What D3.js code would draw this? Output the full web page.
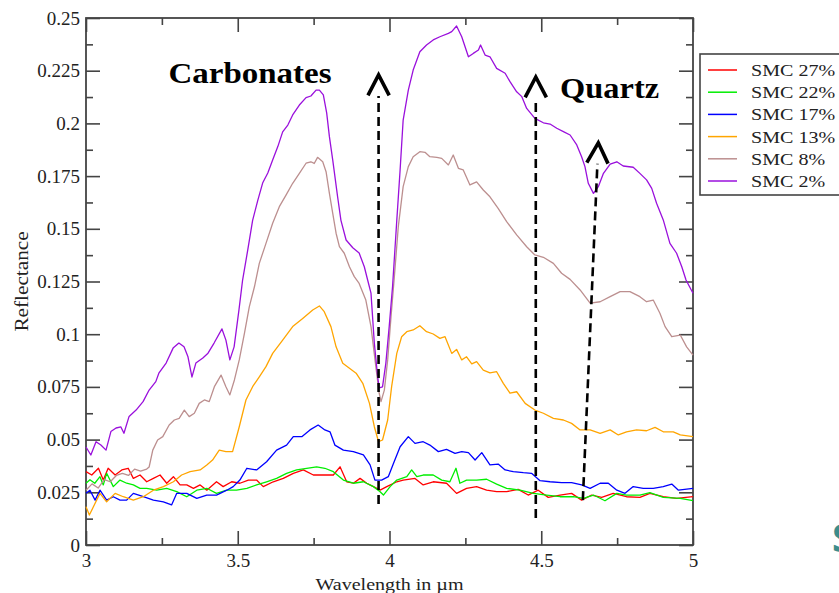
<!DOCTYPE html>
<html>
<head>
<meta charset="utf-8">
<script src="https://cdn.jsdelivr.net/npm/d3@7"></script>
<style>
  body { margin: 0; background: #fff; }
  svg { display: block; }
  text { font-family: "Liberation Serif", "Times New Roman", serif; }
</style>
</head>
<body>
<svg width="839" height="593"></svg>
<script>
// reflectance spectra, [wavelength in µm, reflectance]
var smc27 = [[3.0,0.0348],[3.019,0.0332],[3.041,0.0364],[3.057,0.0308],[3.073,0.0364],[3.096,0.0332],[3.118,0.0356],[3.139,0.0364],[3.156,0.0316],[3.178,0.0332],[3.2,0.03],[3.222,0.0316],[3.244,0.0332],[3.266,0.0293],[3.288,0.0324],[3.31,0.0285],[3.332,0.0285],[3.354,0.0269],[3.376,0.0285],[3.398,0.026],[3.43,0.03],[3.452,0.0277],[3.48,0.03],[3.507,0.0293],[3.535,0.0308],[3.562,0.0308],[3.584,0.0277],[3.617,0.03],[3.65,0.0316],[3.683,0.034],[3.716,0.0356],[3.749,0.0332],[3.782,0.0332],[3.815,0.0332],[3.837,0.0371],[3.859,0.03],[3.881,0.0293],[3.903,0.0316],[3.925,0.0293],[3.947,0.0277],[3.969,0.026],[3.991,0.0277],[4.024,0.03],[4.045,0.0308],[4.084,0.0316],[4.111,0.0285],[4.144,0.03],[4.188,0.0293],[4.221,0.0245],[4.254,0.0269],[4.287,0.0277],[4.32,0.026],[4.353,0.0253],[4.386,0.0253],[4.424,0.0264],[4.457,0.0237],[4.49,0.026],[4.523,0.0226],[4.562,0.0237],[4.6,0.0245],[4.633,0.0213],[4.666,0.0237],[4.699,0.0226],[4.737,0.0245],[4.781,0.0229],[4.825,0.0226],[4.858,0.0245],[4.902,0.0229],[4.946,0.0221],[5.0,0.0229]];

var smc22 = [[3.0,0.0293],[3.013,0.031],[3.029,0.0293],[3.046,0.0324],[3.057,0.0285],[3.068,0.034],[3.09,0.0277],[3.112,0.0308],[3.134,0.0293],[3.156,0.0285],[3.178,0.0269],[3.2,0.0269],[3.233,0.026],[3.266,0.0269],[3.299,0.0253],[3.332,0.0229],[3.365,0.026],[3.398,0.0269],[3.43,0.0245],[3.464,0.026],[3.496,0.026],[3.53,0.0269],[3.562,0.0285],[3.595,0.03],[3.628,0.0316],[3.661,0.034],[3.694,0.0356],[3.727,0.0364],[3.76,0.0371],[3.787,0.0364],[3.815,0.0348],[3.848,0.0308],[3.881,0.0293],[3.914,0.03],[3.947,0.0277],[3.969,0.0253],[3.98,0.0237],[4.002,0.0277],[4.024,0.0308],[4.057,0.0324],[4.073,0.0356],[4.09,0.0324],[4.111,0.0332],[4.144,0.0332],[4.172,0.0308],[4.199,0.03],[4.219,0.0364],[4.232,0.0293],[4.254,0.0308],[4.287,0.0308],[4.32,0.0312],[4.353,0.0289],[4.386,0.0269],[4.43,0.026],[4.474,0.0245],[4.518,0.0237],[4.562,0.0229],[4.606,0.0229],[4.639,0.0221],[4.672,0.0237],[4.71,0.021],[4.749,0.0245],[4.781,0.0237],[4.825,0.0237],[4.858,0.0248],[4.902,0.0226],[4.958,0.0221],[5.0,0.021]];

var smc17 = [[3.0,0.0245],[3.013,0.026],[3.03,0.0213],[3.046,0.026],[3.068,0.0213],[3.09,0.0229],[3.112,0.0213],[3.134,0.0213],[3.156,0.0245],[3.189,0.0229],[3.222,0.0213],[3.255,0.0205],[3.282,0.019],[3.299,0.0245],[3.332,0.0245],[3.365,0.0221],[3.398,0.0237],[3.43,0.0237],[3.464,0.026],[3.485,0.0277],[3.507,0.0308],[3.53,0.0364],[3.562,0.0356],[3.595,0.0395],[3.628,0.045],[3.661,0.0474],[3.683,0.0514],[3.711,0.0514],[3.738,0.0546],[3.765,0.0569],[3.787,0.0546],[3.804,0.0537],[3.82,0.0474],[3.848,0.045],[3.881,0.0443],[3.914,0.0427],[3.936,0.038],[3.952,0.0308],[3.974,0.0308],[3.996,0.0324],[4.013,0.0387],[4.035,0.0466],[4.062,0.0514],[4.084,0.0482],[4.111,0.049],[4.133,0.0474],[4.161,0.0443],[4.188,0.0454],[4.216,0.0435],[4.238,0.0443],[4.26,0.0438],[4.282,0.0403],[4.304,0.0438],[4.331,0.038],[4.358,0.0384],[4.381,0.0356],[4.408,0.0348],[4.441,0.0343],[4.468,0.034],[4.496,0.0305],[4.529,0.03],[4.567,0.0296],[4.6,0.0296],[4.633,0.0285],[4.661,0.0269],[4.694,0.0293],[4.721,0.0293],[4.749,0.026],[4.776,0.0245],[4.803,0.0277],[4.836,0.0269],[4.869,0.0269],[4.902,0.0277],[4.93,0.0289],[4.952,0.026],[5.0,0.0269]];

var smc13 = [[3.0,0.0182],[3.011,0.0142],[3.024,0.018],[3.046,0.0245],[3.068,0.0205],[3.096,0.0245],[3.123,0.0229],[3.156,0.0213],[3.189,0.0229],[3.222,0.026],[3.255,0.0277],[3.288,0.03],[3.315,0.0332],[3.343,0.0348],[3.376,0.0356],[3.398,0.038],[3.417,0.0403],[3.439,0.045],[3.461,0.0443],[3.483,0.0443],[3.505,0.0561],[3.527,0.0688],[3.549,0.0751],[3.571,0.0798],[3.593,0.0846],[3.615,0.0909],[3.648,0.0972],[3.681,0.1036],[3.714,0.1075],[3.747,0.1115],[3.769,0.1134],[3.785,0.1107],[3.807,0.1036],[3.824,0.094],[3.846,0.0862],[3.868,0.0838],[3.89,0.0815],[3.912,0.0767],[3.934,0.0672],[3.95,0.0561],[3.964,0.049],[3.977,0.0498],[3.994,0.0593],[4.007,0.0751],[4.024,0.0909],[4.04,0.0988],[4.057,0.1012],[4.078,0.102],[4.1,0.104],[4.122,0.1012],[4.144,0.1001],[4.166,0.098],[4.183,0.0988],[4.205,0.0909],[4.221,0.0928],[4.238,0.0878],[4.254,0.0893],[4.271,0.0859],[4.287,0.087],[4.309,0.083],[4.331,0.0817],[4.353,0.0822],[4.375,0.0767],[4.397,0.072],[4.419,0.0727],[4.447,0.0672],[4.479,0.064],[4.507,0.0625],[4.54,0.0601],[4.573,0.0593],[4.6,0.0577],[4.628,0.0546],[4.661,0.0546],[4.694,0.053],[4.727,0.0546],[4.754,0.0522],[4.781,0.0537],[4.814,0.0546],[4.847,0.0542],[4.875,0.0558],[4.902,0.0537],[4.935,0.0537],[4.958,0.0522],[5.0,0.0514]];

var smc8 = [[3.0,0.026],[3.02,0.029],[3.04,0.027],[3.06,0.031],[3.08,0.03],[3.1,0.033],[3.12,0.034],[3.14,0.033],[3.16,0.036],[3.18,0.035],[3.2,0.036],[3.208,0.037],[3.22,0.045],[3.236,0.0498],[3.253,0.0514],[3.274,0.0569],[3.291,0.0593],[3.307,0.0601],[3.324,0.064],[3.34,0.0609],[3.357,0.0625],[3.373,0.0672],[3.39,0.0688],[3.406,0.068],[3.423,0.0751],[3.445,0.0806],[3.461,0.0751],[3.474,0.0712],[3.489,0.0783],[3.505,0.0878],[3.522,0.1004],[3.538,0.113],[3.555,0.1225],[3.571,0.1336],[3.593,0.1431],[3.615,0.1526],[3.637,0.1605],[3.659,0.166],[3.681,0.1716],[3.703,0.1763],[3.725,0.1811],[3.741,0.1818],[3.752,0.181],[3.763,0.1839],[3.78,0.1818],[3.791,0.1771],[3.802,0.1668],[3.813,0.1573],[3.824,0.1479],[3.835,0.1415],[3.851,0.1384],[3.868,0.132],[3.884,0.1273],[3.9,0.1241],[3.922,0.1162],[3.939,0.1036],[3.955,0.0846],[3.966,0.072],[3.972,0.068],[3.983,0.0735],[3.994,0.0878],[4.005,0.1083],[4.016,0.1273],[4.029,0.151],[4.045,0.17],[4.062,0.1795],[4.078,0.1842],[4.1,0.1866],[4.117,0.1863],[4.133,0.1842],[4.156,0.1839],[4.172,0.1834],[4.194,0.1803],[4.21,0.185],[4.227,0.1787],[4.243,0.1779],[4.265,0.1708],[4.287,0.1723],[4.309,0.1684],[4.331,0.1652],[4.358,0.1597],[4.386,0.1534],[4.419,0.1471],[4.452,0.1415],[4.479,0.1376],[4.507,0.1365],[4.54,0.1336],[4.567,0.1289],[4.595,0.126],[4.628,0.121],[4.661,0.1147],[4.694,0.1154],[4.727,0.1178],[4.76,0.1202],[4.792,0.1202],[4.825,0.1178],[4.847,0.1154],[4.869,0.1162],[4.891,0.1099],[4.908,0.1036],[4.93,0.0988],[4.958,0.0996],[4.979,0.094],[5.0,0.0901]];

var smc2 = [[3.0,0.0465],[3.016,0.0427],[3.033,0.049],[3.049,0.0474],[3.066,0.045],[3.082,0.0538],[3.099,0.0555],[3.115,0.056],[3.125,0.053],[3.142,0.061],[3.165,0.064],[3.188,0.068],[3.208,0.0735],[3.23,0.0775],[3.24,0.0815],[3.264,0.0863],[3.287,0.0934],[3.306,0.0958],[3.323,0.094],[3.336,0.0893],[3.349,0.0797],[3.362,0.0863],[3.385,0.0887],[3.402,0.091],[3.422,0.0958],[3.448,0.1025],[3.461,0.0972],[3.474,0.0878],[3.488,0.094],[3.504,0.1115],[3.516,0.1257],[3.533,0.14],[3.549,0.154],[3.566,0.1635],[3.582,0.1717],[3.599,0.1765],[3.615,0.1826],[3.632,0.189],[3.648,0.196],[3.665,0.1992],[3.681,0.204],[3.703,0.2087],[3.725,0.2122],[3.741,0.213],[3.758,0.2158],[3.769,0.2158],[3.782,0.2135],[3.793,0.205],[3.802,0.1937],[3.813,0.1826],[3.829,0.1652],[3.84,0.154],[3.857,0.1447],[3.879,0.141],[3.9,0.1385],[3.917,0.132],[3.928,0.1257],[3.939,0.1195],[3.95,0.0958],[3.961,0.0798],[3.966,0.0745],[3.977,0.075],[3.988,0.0863],[3.999,0.1036],[4.01,0.1225],[4.024,0.154],[4.035,0.178],[4.045,0.2016],[4.062,0.2158],[4.078,0.2253],[4.1,0.234],[4.122,0.2372],[4.144,0.2396],[4.166,0.2411],[4.194,0.2427],[4.205,0.2435],[4.221,0.2462],[4.238,0.2411],[4.26,0.2316],[4.276,0.2332],[4.293,0.2348],[4.3,0.2372],[4.315,0.2324],[4.331,0.2316],[4.353,0.2261],[4.381,0.2238],[4.397,0.2198],[4.419,0.215],[4.436,0.2127],[4.452,0.2071],[4.479,0.2024],[4.507,0.2003],[4.529,0.1997],[4.551,0.1977],[4.573,0.1961],[4.595,0.1945],[4.617,0.1898],[4.633,0.1842],[4.644,0.1795],[4.655,0.1716],[4.672,0.1668],[4.688,0.17],[4.705,0.1763],[4.727,0.1807],[4.749,0.1818],[4.77,0.1798],[4.803,0.1792],[4.825,0.1763],[4.847,0.1732],[4.864,0.1692],[4.88,0.1621],[4.902,0.1542],[4.924,0.1431],[4.946,0.1384],[4.963,0.132],[4.977,0.1257],[5.0,0.1194]];

var seriesNames = ["SMC 27%", "SMC 22%", "SMC 17%", "SMC 13%", "SMC 8%", "SMC 2%"];
var seriesData = [smc27, smc22, smc17, smc13, smc8, smc2];
var seriesColors = ["#ff0000", "#00ee00", "#0000ff", "#ffa500", "#bc8f8f", "#9a10dc"];

var xTicks = [3, 3.5, 4, 4.5, 5];
var yTicks = [0, 0.025, 0.05, 0.075, 0.1, 0.125, 0.15, 0.175, 0.2, 0.225, 0.25];

// annotation arrows: [x bottom, y bottom, x tip, y tip]
var arrows = [[3.964, 0.0195, 3.964, 0.223], [4.482, 0.0128, 4.482, 0.222], [4.637, 0.0213, 4.688, 0.1908]];
var notes = [["Carbonates", 3.272, 0.219, 163], ["Quartz", 4.562, 0.212, 99]];

var svg = d3.select("svg");
var plotL = 86, plotR = 693, plotT = 18, plotB = 545;

var x = d3.scaleLinear().domain([3, 5]).range([plotL, plotR]);
var y = d3.scaleLinear().domain([0, 0.25]).range([plotB, plotT]);

var fmt = function (d) { return d === 0 ? "0" : String(+d.toFixed(3)); };
var minorX = d3.range(3.25, 5, 0.5);
var minorY = d3.range(0.0125, 0.25, 0.025);
var axisColor = "#444";

function styleAxis(g) {
  g.select(".domain").remove();
  g.selectAll("line").attr("stroke", axisColor).attr("stroke-width", 1.6);
  g.selectAll("text").attr("fill", "#222").style("font-size", "19px");
}

// bottom & top
svg.append("g").attr("transform", "translate(0," + plotB + ")")
  .call(d3.axisBottom(x).tickValues(xTicks).tickFormat(fmt).tickSize(-14).tickPadding(9))
  .call(styleAxis);
svg.append("g").attr("transform", "translate(0," + plotB + ")")
  .call(d3.axisBottom(x).tickValues(minorX).tickFormat("").tickSize(-7))
  .call(styleAxis);
svg.append("g").attr("transform", "translate(0," + plotT + ")")
  .call(d3.axisTop(x).tickValues(xTicks).tickFormat("").tickSize(-14))
  .call(styleAxis);
svg.append("g").attr("transform", "translate(0," + plotT + ")")
  .call(d3.axisTop(x).tickValues(minorX).tickFormat("").tickSize(-7))
  .call(styleAxis);

// left & right
svg.append("g").attr("transform", "translate(" + plotL + ",0)")
  .call(d3.axisLeft(y).tickValues(yTicks).tickFormat(fmt).tickSize(-14).tickPadding(6))
  .call(styleAxis);
svg.append("g").attr("transform", "translate(" + plotL + ",0)")
  .call(d3.axisLeft(y).tickValues(minorY).tickFormat("").tickSize(-7))
  .call(styleAxis);
svg.append("g").attr("transform", "translate(" + plotR + ",0)")
  .call(d3.axisRight(y).tickValues(yTicks).tickFormat("").tickSize(-14))
  .call(styleAxis);
svg.append("g").attr("transform", "translate(" + plotR + ",0)")
  .call(d3.axisRight(y).tickValues(minorY).tickFormat("").tickSize(-7))
  .call(styleAxis);

// frame
svg.append("rect")
  .attr("x", plotL).attr("y", plotT)
  .attr("width", plotR - plotL).attr("height", plotB - plotT)
  .attr("fill", "none").attr("stroke", axisColor).attr("stroke-width", 1.8);

// spectra
var line = d3.line()
  .x(function (d) { return x(d[0]); })
  .y(function (d) { return y(d[1]); });

svg.append("g").attr("class", "spectra")
  .selectAll("path")
  .data(seriesData)
  .enter()
  .append("path")
  .attr("d", line)
  .attr("fill", "none")
  .attr("stroke", function (d, i) { return seriesColors[i]; })
  .attr("stroke-width", 1.3)
  .attr("stroke-linejoin", "round");

// arrows
var ann = svg.append("g").attr("class", "arrows");
arrows.forEach(function (a) {
  var x1 = x(a[0]), y1 = y(a[1]), x2 = x(a[2]), y2 = y(a[3]);
  var ang = Math.atan2(y2 - y1, x2 - x1);
  var ux = Math.cos(ang), uy = Math.sin(ang);
  ann.append("line")
    .attr("x1", x1).attr("y1", y1)
    .attr("x2", x2 - ux * 21).attr("y2", y2 - uy * 21)
    .attr("stroke", "#000").attr("stroke-width", 2.6)
    .attr("stroke-dasharray", "9,5");
  // chevron head
  var hl = 23, spread = 0.48;
  var p1 = [x2 - hl * Math.cos(ang - spread), y2 - hl * Math.sin(ang - spread)];
  var p2 = [x2 - hl * Math.cos(ang + spread), y2 - hl * Math.sin(ang + spread)];
  ann.append("path")
    .attr("d", "M" + p1 + "L" + x2 + "," + y2 + "L" + p2)
    .attr("fill", "none").attr("stroke", "#000")
    .attr("stroke-width", 3.6).attr("stroke-linejoin", "miter");
});

notes.forEach(function (n) {
  ann.append("text")
    .attr("x", x(n[1])).attr("y", y(n[2]))
    .attr("textLength", n[3]).attr("lengthAdjust", "spacingAndGlyphs")
    .style("font-size", "30px").style("font-weight", "bold")
    .attr("fill", "#000")
    .text(n[0]);
});

// axis titles
var stretch = function (sel) {
  sel.each(function () {
    var t = d3.select(this);
    t.attr("textLength", this.getComputedTextLength() * 1.18).attr("lengthAdjust", "spacingAndGlyphs");
  });
};
svg.append("text")
  .attr("transform", "translate(28," + (plotT + plotB) / 2 + ") rotate(-90)")
  .attr("text-anchor", "middle")
  .style("font-size", "18px").attr("fill", "#222")
  .text("Reflectance").call(stretch);
svg.append("text")
  .attr("x", (plotL + plotR) / 2).attr("y", 590)
  .attr("text-anchor", "middle")
  .style("font-size", "17px").attr("fill", "#222")
  .text("Wavelength in \u00b5m").call(stretch);

// legend
var legend = svg.append("g").attr("class", "legend");
legend.append("rect")
  .attr("x", 700).attr("y", 54).attr("width", 160).attr("height", 141)
  .attr("fill", "#fff").attr("stroke", axisColor).attr("stroke-width", 1.6);
var item = legend.selectAll("g.item")
  .data(seriesNames)
  .enter()
  .append("g")
  .attr("class", "item")
  .attr("transform", function (d, i) { return "translate(708," + (70 + i * 22.2) + ")"; });
item.append("line")
  .attr("x1", 0).attr("x2", 29)
  .attr("stroke", function (d, i) { return seriesColors[i]; })
  .attr("stroke-width", 1.5);
item.append("text")
  .attr("x", 43).attr("y", 6)
  .style("font-size", "17px").attr("fill", "#222")
  .text(function (d) { return d; })
  .call(stretch);

// slide background letter cut at the edge
svg.append("text")
  .attr("x", 832).attr("y", 552)
  .style("font-family", "'Open Sans', sans-serif")
  .style("font-size", "40px").style("font-weight", "bold")
  .attr("fill", "#3d8c8c")
  .text("S");
</script>
</body>
</html>
